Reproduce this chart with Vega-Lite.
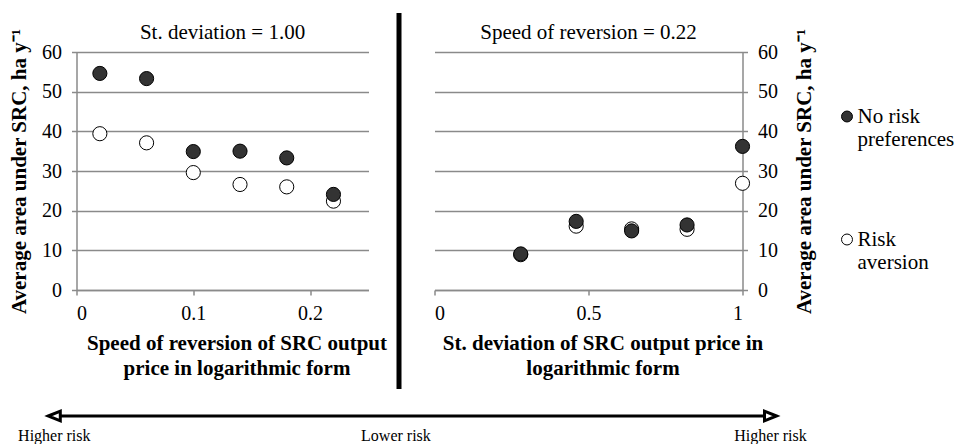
{
  "$schema": "https://vega.github.io/schema/vega-lite/v6.json",
  "padding": {"left": 7.5, "top": 10, "right": 0, "bottom": 0},
  "bounds": "flush",
  "spacing": 364,
  "config": {
    "font": "Liberation Serif",
    "view": {"stroke": null},
    "axis": {
      "labelFont": "Liberation Serif", "labelFontSize": 20, "labelColor": "black",
      "titleFont": "Liberation Serif", "titleFontSize": 21, "titleFontWeight": "bold", "titleColor": "black",
      "domainColor": "#8a8a8a", "domainWidth": 1.5,
      "tickColor": "#8a8a8a", "tickWidth": 1.5, "tickSize": 5,
      "gridColor": "#8a8a8a", "gridWidth": 1.5
    },
    "axisX": {"grid": false, "labelPadding": 8, "titlePadding": 9, "titleLineHeight": 25},
    "axisY": {"grid": true, "labelPadding": 10},
    "title": {"fontSize": 21, "fontWeight": "normal", "color": "black", "offset": 7, "dy": 22, "font": "Liberation Serif", "frame": "group"},
    "legend": {
      "labelFont": "Liberation Serif", "labelFontSize": 21, "labelColor": "black",
      "symbolSize": 120, "symbolStrokeColor": "black", "symbolStrokeWidth": 1, "symbolType": "circle",
      "labelOffset": 0, "rowPadding": 78
    }
  },
  "datasets": {
    "left": [
      {"speed": 0.02, "area": 39.4, "series": "Risk aversion"},
      {"speed": 0.06, "area": 37.1, "series": "Risk aversion"},
      {"speed": 0.10, "area": 29.6, "series": "Risk aversion"},
      {"speed": 0.14, "area": 26.6, "series": "Risk aversion"},
      {"speed": 0.18, "area": 26.0, "series": "Risk aversion"},
      {"speed": 0.22, "area": 22.4, "series": "Risk aversion"},
      {"speed": 0.02, "area": 54.6, "series": "No risk preferences"},
      {"speed": 0.06, "area": 53.3, "series": "No risk preferences"},
      {"speed": 0.10, "area": 34.9, "series": "No risk preferences"},
      {"speed": 0.14, "area": 35.0, "series": "No risk preferences"},
      {"speed": 0.18, "area": 33.3, "series": "No risk preferences"},
      {"speed": 0.22, "area": 24.1, "series": "No risk preferences"}
    ],
    "right": [
      {"sd": 0.28, "area": 8.9, "series": "Risk aversion"},
      {"sd": 0.46, "area": 16.1, "series": "Risk aversion"},
      {"sd": 0.64, "area": 15.4, "series": "Risk aversion"},
      {"sd": 0.82, "area": 15.3, "series": "Risk aversion"},
      {"sd": 1.0, "area": 26.9, "series": "Risk aversion"},
      {"sd": 0.28, "area": 9.1, "series": "No risk preferences"},
      {"sd": 0.46, "area": 17.3, "series": "No risk preferences"},
      {"sd": 0.64, "area": 14.9, "series": "No risk preferences"},
      {"sd": 0.82, "area": 16.4, "series": "No risk preferences"},
      {"sd": 1.0, "area": 36.2, "series": "No risk preferences"}
    ],
    "arrow": [{"from": 0, "to": 1, "level": 1}],
    "heads": [{"pos": 0, "level": 1, "end": "left"}, {"pos": 1, "level": 1, "end": "right"}],
    "risk": [
      {"label": "Higher risk", "pos": 0, "level": 0},
      {"label": "Lower risk", "pos": 0.477, "level": 0},
      {"label": "Higher risk", "pos": 1, "level": 0}
    ]
  },
  "vconcat": [
    {
      "bounds": "flush",
      "spacing": 66,
      "hconcat": [
        {
          "width": 292, "height": 238,
          "title": "St. deviation = 1.00",
          "data": {"name": "left"},
          "mark": {"type": "circle", "size": 200, "stroke": "black", "strokeWidth": 1, "opacity": 1},
          "encoding": {
            "x": {"field": "speed", "type": "quantitative", "scale": {"domain": [0, 0.25]},
              "axis": {"values": [0, 0.1, 0.2], "format": "~g", "title": ["Speed of reversion of SRC output", "price in logarithmic form"], "titleX": 160}},
            "y": {"field": "area", "type": "quantitative", "scale": {"domain": [0, 60]},
              "axis": {"values": [0, 10, 20, 30, 40, 50, 60], "title": "Average area under SRC, ha y⁻¹", "titlePadding": 12}},
            "fill": {"field": "series", "type": "nominal",
              "scale": {"domain": ["No risk preferences", "Risk aversion"], "range": ["#333333", "#ffffff"]},
              "legend": {
                "title": null, "orient": "none", "legendX": 760, "legendY": 54,
                "labelBaseline": "middle",
                "labelExpr": "datum.label == 'No risk preferences' ? ['No risk', 'preferences'] : ['Risk', 'aversion']"
              }}
          }
        },
        {
          "width": 308, "height": 238,
          "title": "Speed of reversion = 0.22",
          "data": {"name": "right"},
          "mark": {"type": "circle", "size": 200, "stroke": "black", "strokeWidth": 1, "opacity": 1},
          "encoding": {
            "x": {"field": "sd", "type": "quantitative", "scale": {"domain": [0, 1]},
              "axis": {"values": [0, 0.5, 1], "format": "~g", "title": ["St. deviation of SRC output price in", "logarithmic form"], "titleX": 168}},
            "y": {"field": "area", "type": "quantitative", "scale": {"domain": [0, 60]},
              "axis": {"orient": "right", "values": [0, 10, 20, 30, 40, 50, 60], "title": "Average area under SRC, ha y⁻¹", "titleAngle": 270, "titleBaseline": "top", "titlePadding": 16}},
            "fill": {"field": "series", "type": "nominal"}
          }
        }
      ]
    },
    {
      "width": 694, "height": 20,
      "layer": [
        {
          "data": {"values": [{"split": 0.4813, "top": 21.15, "bottom": 2.35}]},
          "mark": {"type": "rule", "strokeWidth": 5, "color": "black"},
          "encoding": {
            "x": {"field": "split", "type": "quantitative", "scale": {"domain": [0.031, 1]}, "axis": null},
            "y": {"field": "top", "type": "quantitative", "scale": {"domain": [0, 1]}, "axis": null},
            "y2": {"field": "bottom"}
          }
        },
        {
          "data": {"name": "arrow"},
          "mark": {"type": "rule", "strokeWidth": 3, "color": "black"},
          "encoding": {
            "x": {"field": "from", "type": "quantitative", "scale": {"domain": [0.031, 1]}, "axis": null},
            "x2": {"field": "to"},
            "y": {"field": "level", "type": "quantitative", "scale": {"domain": [0, 1]}, "axis": null}
          }
        },
        {
          "data": {"name": "heads"},
          "mark": {"type": "point", "filled": true, "fill": "white", "stroke": "black", "strokeWidth": 3, "size": 144, "opacity": 1, "strokeJoin": "miter"},
          "encoding": {
            "x": {"field": "pos", "type": "quantitative", "scale": {"domain": [0.031, 1]}, "axis": null},
            "y": {"field": "level", "type": "quantitative", "scale": {"domain": [0, 1]}, "axis": null},
            "shape": {"field": "end", "type": "nominal",
              "scale": {"domain": ["left", "right"], "range": ["M-1,0L1,-0.8L1,0.8Z", "M1,0L-1,-0.8L-1,0.8Z"]}, "legend": null}
          }
        },
        {
          "data": {"name": "risk"},
          "mark": {"type": "text", "fontSize": 16, "font": "Liberation Serif", "color": "black", "baseline": "middle"},
          "encoding": {
            "x": {"field": "pos", "type": "quantitative", "scale": {"domain": [0.031, 1]}, "axis": null},
            "y": {"field": "level", "type": "quantitative", "scale": {"domain": [0, 1]}, "axis": null},
            "text": {"field": "label"}
          }
        }
      ]
    }
  ]
}
